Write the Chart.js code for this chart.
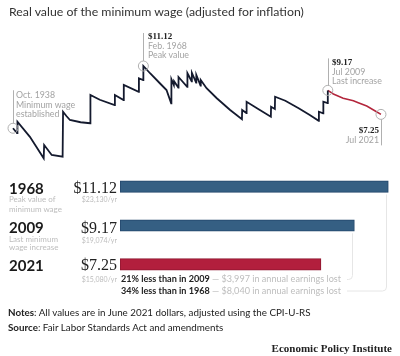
<!DOCTYPE html>
<html><head><meta charset="utf-8">
<script src="https://cdn.jsdelivr.net/npm/chart.js@4"></script>
<style>
html,body{margin:0;padding:0;background:#fff;}
body{width:400px;height:356px;position:relative;overflow:hidden;font-family:Lato,"Open Sans",sans-serif;}
.t{position:absolute;white-space:nowrap;}
.a{font-size:8.8px;line-height:10px;color:#a3a3a3;}
.av{font-family:"Liberation Serif",serif;font-weight:bold;font-size:9px;line-height:10px;color:#222;}
.yr{left:9px;font-size:15px;line-height:16px;font-weight:bold;color:#1a1a1a;}
.ds{left:9px;font-size:8px;line-height:10px;color:#bdbdbd;}
.bv{right:283px;font-family:"Liberation Serif",serif;font-size:16px;line-height:18px;color:#222;}
.bs{right:283px;font-size:7px;line-height:8px;color:#bdbdbd;}
.cmp{left:121px;font-size:9.1px;line-height:10px;color:#222;font-weight:bold;}
.cmp span{font-weight:normal;color:#bdbdbd;}
.nt{left:8px;font-size:9.8px;line-height:12px;color:#222;}
canvas{position:absolute;left:0;}
</style></head><body>
<canvas id="line" width="400" height="175" style="top:0"></canvas>
<canvas id="bars" width="400" height="140" style="top:160px"></canvas>

<div class="t" style="left:9px;top:3.5px;font-size:12.3px;line-height:15px;color:#333">Real value of the minimum wage (adjusted for inflation)</div>

<div class="t av" style="left:148px;top:31px">$11.12</div>
<div class="t a" style="left:148px;top:41px">Feb. 1968</div>
<div class="t a" style="left:148px;top:50px">Peak value</div>

<div class="t a" style="left:16px;top:90px">Oct. 1938</div>
<div class="t a" style="left:16px;top:100px">Minimum wage</div>
<div class="t a" style="left:16px;top:109px">established</div>

<div class="t av" style="left:332px;top:57px">$9.17</div>
<div class="t a" style="left:332px;top:67px">Jul 2009</div>
<div class="t a" style="left:332px;top:76px">Last increase</div>

<div class="t av" style="right:21px;top:125px">$7.25</div>
<div class="t a" style="right:21px;top:134.5px">Jul 2021</div>

<div class="t yr" style="top:180px">1968</div>
<div class="t ds" style="top:194px">Peak value of</div>
<div class="t ds" style="top:203.5px">minimum wage</div>
<div class="t yr" style="top:219px">2009</div>
<div class="t ds" style="top:234px">Last minimum</div>
<div class="t ds" style="top:242px">wage increase</div>
<div class="t yr" style="top:257px">2021</div>

<div class="t bv" style="top:179px">$11.12</div>
<div class="t bs" style="top:194.5px">$23,130/yr</div>
<div class="t bv" style="top:218.5px">$9.17</div>
<div class="t bs" style="top:235.5px">$19,074/yr</div>
<div class="t bv" style="top:256px">$7.25</div>
<div class="t bs" style="top:274.5px">$15,080/yr</div>

<div class="t cmp" style="top:274px">21% less than in 2009 <span>— $3,997 in annual earnings lost</span></div>
<div class="t cmp" style="top:285.7px">34% less than in 1968 <span>— $8,040 in annual earnings lost</span></div>

<div class="t nt" style="top:306.3px"><b>Notes</b>: All values are in June 2021 dollars, adjusted using the CPI-U-RS</div>
<div class="t nt" style="top:321.3px"><b>Source</b>: Fair Labor Standards Act and amendments</div>
<div class="t" style="right:8px;top:341.5px;font-family:'Liberation Serif',serif;font-weight:bold;font-size:11px;line-height:13px;color:#222">Economic Policy Institute</div>

<script>
// Real minimum wage, June 2021 dollars
const blackYears = [1938.8,1939.7,1939.8,1942.6,1945.7,1945.8,1947.5,1949.95,1950.05,1950.8,1951.6,1954.0,1956.15,1956.2,1958.3,1961.65,1961.7,1963.65,1963.7,1967.05,1967.1,1968.05,1968.1,1969.6,1971.8,1973.3,1974.35,1974.4,1974.95,1975.0,1975.95,1976.0,1977.95,1978.0,1978.95,1979.0,1979.95,1980.0,1980.95,1981.0,1982.3,1984.6,1987.6,1990.25,1990.3,1991.25,1991.3,1994.0,1996.75,1996.8,1997.65,1997.7,2000.0,2003.0,2005.5,2007.5,2007.55,2008.5,2008.55,2009.5,2009.55];
const blackValues = [6.14,5.76,6.66,5.45,3.74,4.80,4.00,3.86,7.46,7.12,6.80,6.62,6.54,8.80,8.42,8.00,8.80,8.40,9.60,9.06,10.14,10.00,11.12,10.54,9.74,9.20,8.14,10.06,9.60,9.90,9.40,10.24,9.46,10.54,9.90,10.58,9.80,10.40,9.55,10.00,9.34,8.54,7.60,6.86,7.60,7.36,8.26,7.66,7.06,7.86,7.68,8.66,8.34,7.74,7.20,6.74,7.46,7.34,8.26,8.16,9.17];
const redYears = [2009.55,2010.8,2013.0,2015.3,2016.4,2018.3,2020.5,2021.5];
const redValues = [9.17,8.88,8.54,8.34,8.18,7.92,7.46,7.25];

// Bars
const barCategories = ['1968','2009','2021'];
const barValues = [11.12, 9.17, 7.25];
const barColors = ['#355f83','#355f83','#b21f3d'];
const barBorders = ['#23466a','#23466a','#8f1730'];

const toXY = (xs, ys) => xs.map((x, i) => ({x, y: ys[i]}));

// marks: [datasetIndex, pointIndex, leaderTopOffset, leaderBottomOffset]
const marks = [
  [0, 0, -38, -5],
  [0, 22, -33, -5],
  [0, blackYears.length - 1, -32, -5],
  [1, redYears.length - 1, 5, 31]
];

const markPlugin = {
  id: 'marks',
  afterDatasetsDraw(chart) {
    const ctx = chart.ctx;
    ctx.save();
    ctx.strokeStyle = '#b0b0b0';
    ctx.lineWidth = 1;
    marks.forEach(([d, i, a, b]) => {
      const p = chart.getDatasetMeta(d).data[i];
      ctx.beginPath();
      ctx.arc(p.x, p.y, 5, 0, Math.PI * 2);
      ctx.stroke();
      ctx.beginPath();
      ctx.moveTo(Math.round(p.x) + 0.5, p.y + a);
      ctx.lineTo(Math.round(p.x) + 0.5, p.y + b);
      ctx.stroke();
    });
    ctx.restore();
  }
};

new Chart(document.getElementById('line'), {
  type: 'line',
  data: {
    datasets: [
      {data: toXY(blackYears, blackValues), borderColor: '#141a2e', borderWidth: 1.8, pointRadius: 0, tension: 0},
      {data: toXY(redYears, redValues), borderColor: '#b3263c', borderWidth: 1.5, pointRadius: 0, tension: 0}
    ]
  },
  options: {
    responsive: false, animation: false,
    layout: {padding: {left: 9.44, right: 16.8, top: 55, bottom: 7.5}},
    plugins: {legend: {display: false}, tooltip: {enabled: false}},
    scales: {
      x: {type: 'linear', min: 1938, max: 2022, display: false},
      y: {type: 'linear', min: 3, max: 12, display: false}
    }
  },
  plugins: [markPlugin]
});

// brackets from bar ends down to comparison lines
const bracketPlugin = {
  id: 'brackets',
  afterDatasetsDraw(chart) {
    const ctx = chart.ctx;
    const bars = chart.getDatasetMeta(0).data;
    ctx.save();
    ctx.strokeStyle = '#e6e6e6';
    ctx.lineWidth = 1;
    const draw = (bar, inset, yText) => {
      const x = Math.round(bar.x - inset) + 0.5;
      const y0 = bar.y + bar.height / 2 + 2;
      ctx.beginPath();
      ctx.moveTo(x, y0);
      ctx.lineTo(x, yText - 4);
      ctx.quadraticCurveTo(x, yText, x - 4, yText);
      ctx.lineTo(347, yText);
      ctx.stroke();
    };
    draw(bars[1], 2, 279.5 - 160);
    draw(bars[0], 2.5, 291 - 160);
    ctx.restore();
  }
};

new Chart(document.getElementById('bars'), {
  type: 'bar',
  data: {
    labels: barCategories,
    datasets: [{data: barValues, backgroundColor: barColors, borderColor: barBorders, borderWidth: 1, borderSkipped: false, barThickness: 11.5, base: -4.3}]
  },
  options: {
    indexAxis: 'y',
    responsive: false, animation: false,
    layout: {padding: {left: 120, right: 10.3, top: 7.3, bottom: 16.3}},
    plugins: {legend: {display: false}, tooltip: {enabled: false}},
    scales: {
      x: {type: 'linear', min: -4.3, max: 11.2, display: false},
      y: {display: false}
    }
  },
  plugins: [bracketPlugin]
});
</script>
</body></html>
